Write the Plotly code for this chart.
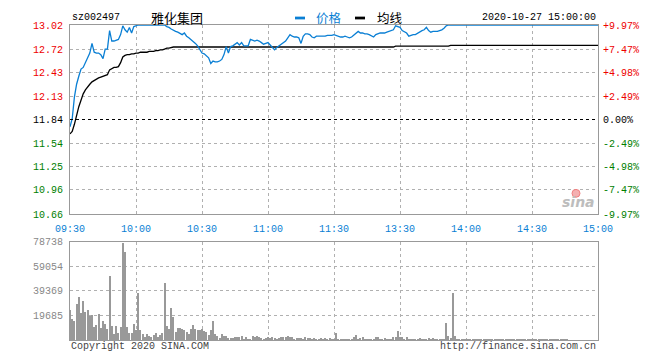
import plotly.graph_objects as go

# ---------------- data ----------------
code = "sz002497"
name = "雅化集团"
stamp = "2020-10-27 15:00:00"
prev_close = 11.84

price_labels = ["10.66", "10.96", "11.25", "11.54", "11.84", "12.13", "12.43", "12.72", "13.02"]
pct_labels = ["-9.97%", "-7.47%", "-4.98%", "-2.49%", "0.00%", "+2.49%", "+4.98%", "+7.47%", "+9.97%"]
vol_labels = ["19685", "39369", "59054", "78738"]
time_labels = ["09:30", "10:00", "10:30", "11:00", "11:30", "13:30", "14:00", "14:30", "15:00"]
time_pos = [0, 30, 60, 90, 120, 150, 180, 210, 240]

price = [
    11.75, 11.85, 12.12, 12.28, 12.38, 12.47, 12.49, 12.55, 12.60, 12.67,
    12.79, 12.68, 12.67, 12.67, 12.65, 12.60, 12.72, 12.72, 12.95, 12.82,
    12.82, 12.83, 12.84, 12.90, 13.01, 12.96, 12.93, 12.99, 12.92, 13.00,
    13.01, 13.02, 13.02, 13.02, 13.02, 13.02, 13.02, 13.02, 13.02, 13.02,
    13.02, 13.02, 13.02, 13.02, 13.00, 12.99, 12.97, 12.95, 12.94, 12.93,
    12.91, 12.90, 12.92, 12.88, 12.86, 12.84, 12.81, 12.79, 12.76, 12.72,
    12.67, 12.66, 12.63, 12.61, 12.54, 12.57, 12.56, 12.56, 12.57, 12.59,
    12.65, 12.75, 12.67, 12.75, 12.76, 12.78, 12.80, 12.77, 12.80, 12.76,
    12.76, 12.76, 12.84, 12.83, 12.82, 12.83, 12.82, 12.80, 12.78, 12.79,
    12.80, 12.77, 12.74, 12.71, 12.74, 12.76, 12.79, 12.81, 12.82, 12.86,
    12.90, 12.88, 12.87, 12.87, 12.86, 12.79, 12.88, 12.91, 12.91, 12.90,
    12.87, 12.86, 12.88, 12.88, 12.88, 12.88, 12.88, 12.89, 12.89, 12.89,
    12.90, 12.89, 12.88, 12.87, 12.87, 12.88, 12.87, 12.86, 12.87, 12.89,
    12.92, 12.94, 12.92, 12.92, 12.91, 12.91, 12.90, 12.88, 12.87, 12.90,
    12.91, 12.92, 12.92, 12.92, 12.93, 12.94, 12.95, 12.96, 13.01, 13.00,
    12.99, 12.95, 12.93, 12.92, 12.88, 12.89, 12.90, 12.90, 12.92, 12.94,
    12.95, 12.96, 12.99, 12.95, 12.93, 12.94, 12.94, 12.94, 12.95, 12.96,
    12.98, 13.01,
] + [13.02] * 69

avg_line = [
    11.66, 11.69, 11.78, 11.90, 12.00, 12.08, 12.16, 12.21, 12.25, 12.28,
    12.31, 12.33, 12.35, 12.36, 12.37, 12.38, 12.39, 12.40, 12.46, 12.48,
    12.49, 12.49, 12.50, 12.55, 12.62, 12.64, 12.65, 12.65, 12.66, 12.66,
    12.67, 12.67, 12.68, 12.68, 12.68, 12.68, 12.69, 12.69, 12.69, 12.70,
    12.70, 12.71, 12.71, 12.72, 12.73, 12.73, 12.74, 12.745,
] + [12.745] * 100 + [12.755] * 25 + [12.765] * 68

volume = [
    24400, 16800, 15700, 29100, 34400, 22000, 31500, 22600, 24400, 19400,
    20400, 10800, 12600, 21000, 10200, 15700, 13400, 9400, 51200, 11500,
    5500, 11500, 6000, 11000, 78000, 70900, 11000, 6300, 5800, 13400,
    8400, 37800, 8100, 5000, 2900, 5500, 3400, 2400, 4200, 6300,
    2900, 4200, 6300, 45700, 11800, 9400, 26000, 18900, 7100, 10200,
    10200, 8900, 8100, 7100, 5500, 8900, 12600, 8900, 8400, 8400,
    9400, 7900, 7100, 4700, 8400, 15700, 5200, 3900, 2100, 5200,
    3900, 3900, 2100, 2100, 2100, 3100, 3100, 3100, 3900, 1300,
    3100, 500, 1300, 3900, 2600, 3900, 2600, 1800, 1000, 1800,
    3100, 1800, 2400, 1600, 1300, 2100, 3100, 3100, 3100, 3900,
    3100, 2600, 1000, 1800, 1800, 2100, 1000, 3100, 1800, 2100,
    1000, 1800, 1300, 1000, 1800, 1000, 1800, 1000, 2100, 1000,
    800, 5800, 1000, 500, 500, 500, 1300, 1300, 1300, 2600,
    4700, 1300, 1800, 2600, 500, 1300, 1300, 1300, 1300, 2600,
    3100, 1300, 1000, 1800, 1000, 1300, 1300, 2600, 3100, 7400,
    3150, 3150, 1300, 3150, 500, 500, 800, 1300, 1300, 2100,
    1300, 1300, 500, 2100, 1300, 2100, 1300, 500, 1300, 1300,
    500, 14200, 3700, 2100, 37800, 3700, 1300, 500, 1300, 1300,
    1300, 1300, 500, 1300, 500, 500, 600, 500, 600, 500,
    600, 500, 600, 500, 500, 600, 500, 600, 500, 500,
    600, 500, 500, 600, 500, 1300, 1300, 600, 500, 500,
    600, 1300, 600, 500, 600, 500, 500, 600, 500, 500,
    600, 500, 500, 1300, 600, 500, 500, 300, 300, 300,
    300,
]

minutes = list(range(len(price)))

# ---------------- styling ----------------
FONT = "Liberation Mono"
RED = "#ee0000"
GREEN = "#008000"
BLUE = "#0a7fd4"
GRID = "#b0b0b0"
BORDER = "#999999"

# the page body has an 8px default margin, so the figure is drawn 8px
# smaller and the plot area is placed to land at page px 70..598 / 20..340
OFF = 8
PL, PR, PT, PB = 70, 598, 20, 340


def colored(labels, ref_index):
    out = []
    for k, s in enumerate(labels):
        if k > ref_index:
            c = RED
        elif k < ref_index:
            c = GREEN
        else:
            c = "#000000"
        out.append(f'<span style="color:{c}">{s}</span>')
    return out


price_vals = [float(s) for s in price_labels]
vol_vals = [float(s) for s in vol_labels]

fig = go.Figure()
fig.add_trace(go.Scatter(x=minutes, y=avg_line, mode="lines",
                         line=dict(color="#000000", width=1.3),
                         xaxis="x", yaxis="y", hoverinfo="skip"))
fig.add_trace(go.Scatter(x=minutes, y=price, mode="lines",
                         line=dict(color=BLUE, width=1.3),
                         xaxis="x", yaxis="y", hoverinfo="skip"))
# invisible trace to carry the right-hand percentage axis
fig.add_trace(go.Scatter(x=[minutes[0]], y=[prev_close], mode="lines",
                         line=dict(width=0), xaxis="x", yaxis="y3",
                         hoverinfo="skip"))
fig.add_trace(go.Bar(x=minutes, y=volume, width=0.5,
                     marker=dict(color="#999999", line=dict(width=0)),
                     xaxis="x2", yaxis="y2", hoverinfo="skip"))

axis_common = dict(showgrid=True, gridcolor=GRID, griddash="dot", gridwidth=1,
                   showline=True, mirror=True, linecolor=BORDER, linewidth=1,
                   zeroline=False, ticks="")

W, H = 660 - OFF, 360 - OFF
fig.update_layout(
    width=W, height=H,
    margin=dict(l=PL - OFF, r=W - (PR - OFF), t=PT - OFF, b=H - (PB - OFF)),
    paper_bgcolor="white", plot_bgcolor="white",
    showlegend=False,
    bargap=0,
    xaxis=dict(domain=[0, 1], anchor="y", range=[0, 240],
               tickvals=time_pos, ticktext=time_labels,
               tickfont=dict(family=FONT, size=10, color=BLUE),
               ticklabelstandoff=5, **axis_common),
    yaxis=dict(domain=[0.4, 1], anchor="x", range=[price_vals[0], price_vals[-1]],
               tickvals=price_vals, ticktext=colored(price_labels, 4),
               tickfont=dict(family=FONT, size=10),
               ticklabelstandoff=4, **axis_common),
    yaxis3=dict(overlaying="y", side="right", anchor="x",
                range=[price_vals[0], price_vals[-1]],
                tickvals=price_vals, ticktext=colored(pct_labels, 4),
                tickfont=dict(family=FONT, size=10),
                showgrid=False, showline=False, zeroline=False, ticks="",
                ticklabelstandoff=4),
    xaxis2=dict(domain=[0, 1], anchor="y2", range=[0, 240], matches="x",
                tickvals=time_pos, showticklabels=False, **axis_common),
    yaxis2=dict(domain=[0, 0.3125], anchor="x2", range=[0, vol_vals[-1]],
                tickvals=vol_vals, ticktext=vol_labels,
                tickfont=dict(family=FONT, size=10, color="#888888"),
                ticklabelstandoff=4, **axis_common),
)

# previous close dashed line
fig.add_shape(type="line", xref="x", yref="y", x0=0, x1=240,
              y0=prev_close, y1=prev_close,
              line=dict(color="#000000", width=1, dash="3px,3px"))


def px_x(p):
    return (p - PL) / float(PR - PL)


def px_y(p):
    return (PB - p) / float(PB - PT)


# header texts
fig.add_annotation(xref="paper", yref="paper", x=px_x(70), y=px_y(12.5),
                   xanchor="left", yanchor="middle", showarrow=False,
                   text=code, font=dict(family=FONT, size=10, color="#000"))
fig.add_annotation(xref="paper", yref="paper", x=px_x(149), y=px_y(12.5),
                   xanchor="left", yanchor="middle", showarrow=False,
                   text=name, font=dict(family="Noto Sans CJK SC", size=13, color="#000"))
fig.add_shape(type="rect", xref="paper", yref="paper",
              x0=px_x(295), x1=px_x(305), y0=px_y(14.3), y1=px_y(11.5),
              fillcolor=BLUE, line=dict(width=0))
fig.add_annotation(xref="paper", yref="paper", x=px_x(314), y=px_y(12.5),
                   xanchor="left", yanchor="middle", showarrow=False,
                   text="价格", font=dict(family="Noto Sans CJK SC", size=12.5, color=BLUE))
fig.add_shape(type="rect", xref="paper", yref="paper",
              x0=px_x(355), x1=px_x(365), y0=px_y(14.3), y1=px_y(11.5),
              fillcolor="#000000", line=dict(width=0))
fig.add_annotation(xref="paper", yref="paper", x=px_x(375), y=px_y(12.5),
                   xanchor="left", yanchor="middle", showarrow=False,
                   text="均线", font=dict(family="Noto Sans CJK SC", size=12.5, color="#000"))
fig.add_annotation(xref="paper", yref="paper", x=px_x(598), y=px_y(12.5),
                   xanchor="right", yanchor="middle", showarrow=False,
                   text=stamp, font=dict(family=FONT, size=10, color="#000"))

# footer texts
fig.add_annotation(xref="paper", yref="paper", x=px_x(69), y=px_y(347),
                   xanchor="left", yanchor="middle", showarrow=False,
                   text="Copyright 2020 SINA.COM",
                   font=dict(family=FONT, size=10, color="#444444"))
fig.add_annotation(xref="paper", yref="paper", x=px_x(598), y=px_y(347),
                   xanchor="right", yanchor="middle", showarrow=False,
                   text="http://finance.sina.com.cn",
                   font=dict(family=FONT, size=10, color="#444444"))

# sina watermark
fig.add_shape(type="circle", xref="paper", yref="paper",
              x0=px_x(572), x1=px_x(580), y0=px_y(195), y1=px_y(187),
              fillcolor="#f4b0b0", line=dict(color="#f08080", width=1))
fig.add_annotation(xref="paper", yref="paper", x=px_x(597), y=px_y(200),
                   xanchor="right", yanchor="middle", showarrow=False,
                   text="<b><i>sina</i></b>",
                   font=dict(family="DejaVu Sans", size=14, color="#bdbdbd"))

fig.write_html("out.html")
